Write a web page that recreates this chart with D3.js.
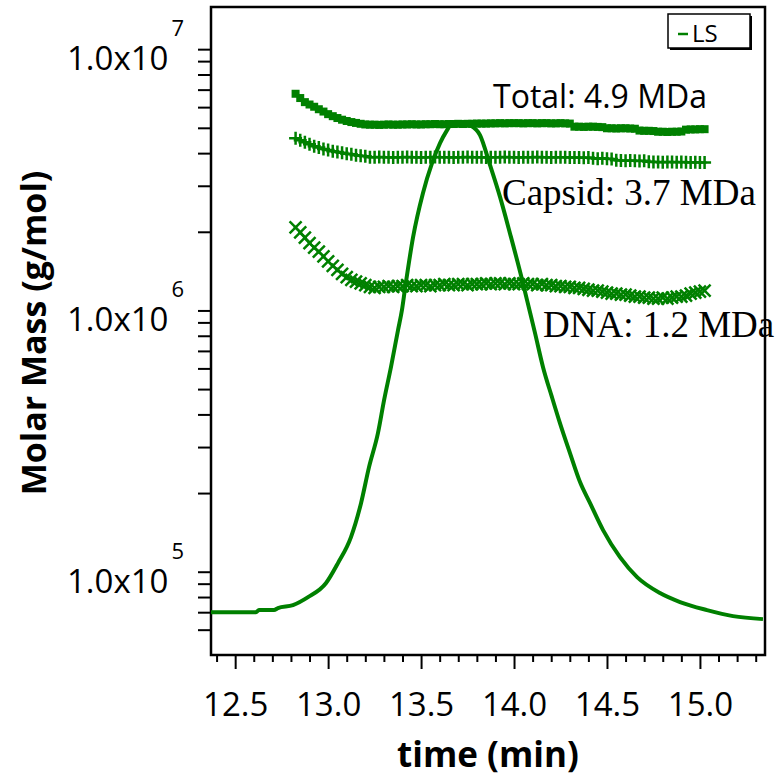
<!DOCTYPE html>
<html><head><meta charset="utf-8">
<script src="https://cdn.jsdelivr.net/npm/d3@7"></script>
<style>body{margin:0;background:#fff} svg{display:block}</style>
</head><body>
<svg id="chart" width="782" height="779"></svg>
<script>
// ---- data ----
const mmTime = [
12.825,12.85,12.875,12.9,12.925,12.95,12.975,13.0,13.025,13.05,
13.075,13.1,13.125,13.15,13.175,13.2,13.225,13.25,13.275,13.3,
13.325,13.35,13.375,13.4,13.425,13.45,13.475,13.5,13.525,13.55,
13.575,13.6,13.625,13.65,13.675,13.7,13.725,13.75,13.775,13.8,
13.825,13.85,13.875,13.9,13.925,13.95,13.975,14.0,14.025,14.05,
14.075,14.1,14.125,14.15,14.175,14.2,14.225,14.25,14.275,14.3,
14.325,14.35,14.375,14.4,14.425,14.45,14.475,14.5,14.525,14.55,
14.575,14.6,14.625,14.65,14.675,14.7,14.725,14.75,14.775,14.8,
14.825,14.85,14.875,14.9,14.925,14.95,14.975,15.0,15.025];
// molar masses in MDa
const totalMDa = [
6.75,6.50,6.27,6.14,6.02,5.89,5.77,5.64,5.54,5.45,
5.37,5.31,5.26,5.22,5.18,5.15,5.14,5.14,5.13,5.14,
5.15,5.14,5.14,5.15,5.15,5.16,5.15,5.15,5.16,5.16,
5.17,5.16,5.16,5.17,5.17,5.18,5.17,5.18,5.18,5.19,
5.19,5.19,5.20,5.20,5.21,5.20,5.21,5.21,5.21,5.20,
5.21,5.21,5.20,5.21,5.21,5.20,5.20,5.21,5.20,5.19,
5.05,5.05,5.04,5.05,5.05,5.04,5.03,4.98,4.98,4.97,
4.98,4.98,4.97,4.96,4.88,4.87,4.87,4.86,4.83,4.83,
4.82,4.83,4.83,4.84,4.92,4.93,4.93,4.94,4.94];
const capsidMDa = [
4.56,4.48,4.40,4.33,4.25,4.20,4.15,4.11,4.07,4.04,
4.01,3.98,3.96,3.93,3.91,3.89,3.86,3.86,3.87,3.86,
3.86,3.85,3.86,3.86,3.87,3.86,3.86,3.85,3.86,3.86,
3.87,3.86,3.86,3.86,3.85,3.86,3.86,3.87,3.86,3.86,
3.86,3.85,3.86,3.86,3.86,3.87,3.86,3.86,3.85,3.86,
3.86,3.86,3.87,3.86,3.86,3.85,3.86,3.86,3.86,3.85,
3.85,3.85,3.84,3.85,3.82,3.81,3.82,3.81,3.80,3.76,
3.75,3.74,3.75,3.74,3.73,3.74,3.71,3.70,3.70,3.69,
3.70,3.70,3.69,3.70,3.69,3.68,3.69,3.68,3.68];
const dnaMDa = [
2.08,1.99,1.90,1.81,1.74,1.68,1.61,1.54,1.48,1.43,
1.38,1.34,1.31,1.29,1.27,1.25,1.23,1.22,1.23,1.23,
1.24,1.23,1.24,1.24,1.25,1.24,1.24,1.25,1.25,1.24,
1.25,1.25,1.26,1.25,1.25,1.26,1.26,1.25,1.26,1.26,
1.26,1.27,1.26,1.27,1.27,1.26,1.27,1.26,1.26,1.27,
1.26,1.26,1.25,1.26,1.25,1.25,1.24,1.24,1.23,1.23,
1.22,1.22,1.21,1.20,1.19,1.19,1.18,1.17,1.16,1.16,
1.15,1.15,1.14,1.13,1.13,1.12,1.12,1.11,1.11,1.12,
1.11,1.12,1.13,1.13,1.14,1.16,1.17,1.18,1.19];
// light-scattering trace (plotted on the same log axis)
const lsTime = [12.370,12.612,12.628,12.709,12.730,12.811,12.892,12.989,13.053,13.123,
13.177,13.220,13.268,13.301,13.338,13.376,13.397,13.414,13.457,13.510,
13.559,13.602,13.640,13.666,13.709,13.763,13.817,13.871,13.925,13.978,
14.048,14.070,14.113,14.156,14.204,14.247,14.301,14.355,14.409,
14.479,14.570,14.662,14.785,14.893,15.038,15.178,15.339];
const lsSignal = [70000,70000,71300,71300,72600,74500,79900,90500,107900,135700,
183000,251400,339200,453600,606700,840600,1002500,1217000,1908000,2811000,
3662000,4368000,4898000,5211000,5257000,5120000,4689000,3598000,2714000,1976000,
1272000,1095000,818900,606700,465700,370500,284400,220300,183000,
144300,113700,95350,82830,76510,71290,67620,65850];
const xMajorTicks = [12.5,13.0,13.5,14.0,14.5,15.0];
const xMinorTicks = [12.4,12.6,12.7,12.8,12.9,13.1,13.2,13.3,13.4,13.6,13.7,13.8,13.9,14.1,14.2,14.3,14.4,14.6,14.7,14.8,14.9,15.1,15.2,15.3];
const yLabelTicks = [1e5,1e6,1e7];
const yLabelMantissa = ["1.0x10","1.0x10","1.0x10"];
const yLabelExponent = ["5","6","7"];
const yAllTicks = [6e4,7e4,8e4,9e4,1e5,2e5,3e5,4e5,5e5,6e5,7e5,8e5,9e5,1e6,2e6,3e6,4e6,5e6,6e6,7e6,8e6,9e6,1e7];
const annotationTexts = ["Total: 4.9 MDa","Capsid: 3.7 MDa","DNA: 1.2 MDa"];
const legendLabels = ["LS"];
const xTitle = "time (min)", yTitle = "Molar Mass (g/mol)";

// ---- drawing ----
const green = "#008000";
const svg = d3.select("#chart");
const L = 211, R = 765, T = 7, B = 655;
const x = d3.scaleLinear().domain([12.37, 15.35]).range([L, R]);
const y = d3.scaleLog().domain([4.8e4, 1.45e7]).range([B, T]);
const font = "'Open Sans', 'Noto Sans', sans-serif";
const serif = "'Liberation Serif','Times New Roman',serif";

svg.append("defs").append("clipPath").attr("id","clip")
  .append("rect").attr("x",L).attr("y",T).attr("width",R-L).attr("height",B-T);

// axes
const gx = svg.append("g").attr("transform",`translate(0,${B})`)
  .call(d3.axisBottom(x).tickValues(xMajorTicks).tickSize(14).tickFormat(d3.format(".1f")));
gx.select(".domain").remove();
gx.selectAll(".tick line").attr("stroke","#000").attr("stroke-width",2);
gx.selectAll(".tick text").attr("font-family",font).attr("font-size",33).attr("fill","#000")
  .attr("y",61).attr("dy",0);
const gxm = svg.append("g").attr("transform",`translate(0,${B})`)
  .call(d3.axisBottom(x).tickValues(xMinorTicks).tickSize(7).tickFormat(""));
gxm.select(".domain").remove();
gxm.selectAll(".tick line").attr("stroke","#000").attr("stroke-width",2);

const gy = svg.append("g").attr("transform",`translate(${L},0)`)
  .call(d3.axisLeft(y).tickValues(yAllTicks).tickSize(13).tickFormat(""));
gy.select(".domain").remove();
gy.selectAll(".tick line").attr("stroke","#000").attr("stroke-width",2);

yLabelTicks.forEach((v,i)=>{
  const t = svg.append("text").attr("x",184).attr("y",y(v)+21)
    .attr("text-anchor","end").attr("font-family",font).attr("font-size",33).attr("fill","#000");
  t.append("tspan").text(yLabelMantissa[i]);
  t.append("tspan").attr("dx",3).attr("dy",-34).attr("font-size",22).text(yLabelExponent[i]);
});

// frame
svg.append("rect").attr("x",L).attr("y",T).attr("width",R-L).attr("height",B-T)
  .attr("fill","none").attr("stroke","#000").attr("stroke-width",2.5);

// titles
svg.append("text").attr("x",(L+R)/2).attr("y",767).attr("text-anchor","middle")
  .attr("font-family",font).attr("font-weight","bold").attr("font-size",35).text(xTitle);
svg.append("text").attr("transform","translate(46,333) rotate(-90)").attr("text-anchor","middle")
  .attr("font-family",font).attr("font-weight","bold").attr("font-size",34).text(yTitle);

// series
const plot = svg.append("g").attr("clip-path","url(#clip)");
const pts = (vals)=> mmTime.map((t,i)=>({t, v: vals[i]*1e6}));

plot.append("g").selectAll("rect").data(pts(totalMDa)).join("rect")
  .attr("x",d=>x(d.t)-4).attr("y",d=>y(d.v)-4).attr("width",8).attr("height",8).attr("fill",green);

plot.append("g").selectAll("path").data(pts(capsidMDa)).join("path")
  .attr("transform",d=>`translate(${x(d.t)},${y(d.v)})`)
  .attr("d","M-6.5,0H6.5M0,-6.5V6.5").attr("stroke",green).attr("stroke-width",2.5).attr("fill","none");

plot.append("g").selectAll("path").data(pts(dnaMDa)).join("path")
  .attr("transform",d=>`translate(${x(d.t)},${y(d.v)})`)
  .attr("d","M-6,-6L6,6M-6,6L6,-6").attr("stroke",green).attr("stroke-width",2.5).attr("fill","none");

const lsData = lsTime.map((t,i)=>({t, v: lsSignal[i]}));
plot.append("path").datum(lsData)
  .attr("d", d3.line().x(d=>x(d.t)).y(d=>y(d.v)).curve(d3.curveMonotoneX))
  .attr("fill","none").attr("stroke",green).attr("stroke-width",4);

// annotations
svg.append("text").attr("x",493).attr("y",108).attr("font-family",font).attr("font-size",32).attr("fill","#000").text(annotationTexts[0]);
svg.append("text").attr("x",502).attr("y",205).attr("font-family",serif).attr("font-size",37).attr("fill","#000").text(annotationTexts[1]);
svg.append("text").attr("x",543).attr("y",337).attr("font-family",serif).attr("font-size",37).attr("fill","#000").text(annotationTexts[2]);

// legend
const lg = svg.append("g");
lg.append("rect").attr("x",670).attr("y",16).attr("width",82).attr("height",34).attr("fill","#000");
lg.append("rect").attr("x",668).attr("y",14).attr("width",82).attr("height",34).attr("fill","#fff").attr("stroke","#000").attr("stroke-width",1.5);
lg.append("line").attr("x1",678).attr("x2",688).attr("y1",34).attr("y2",34).attr("stroke",green).attr("stroke-width",2.5);
lg.append("text").attr("x",692).attr("y",42).attr("font-family",font).attr("font-size",24).attr("fill","#000").text(legendLabels[0]);
</script>
</body></html>
